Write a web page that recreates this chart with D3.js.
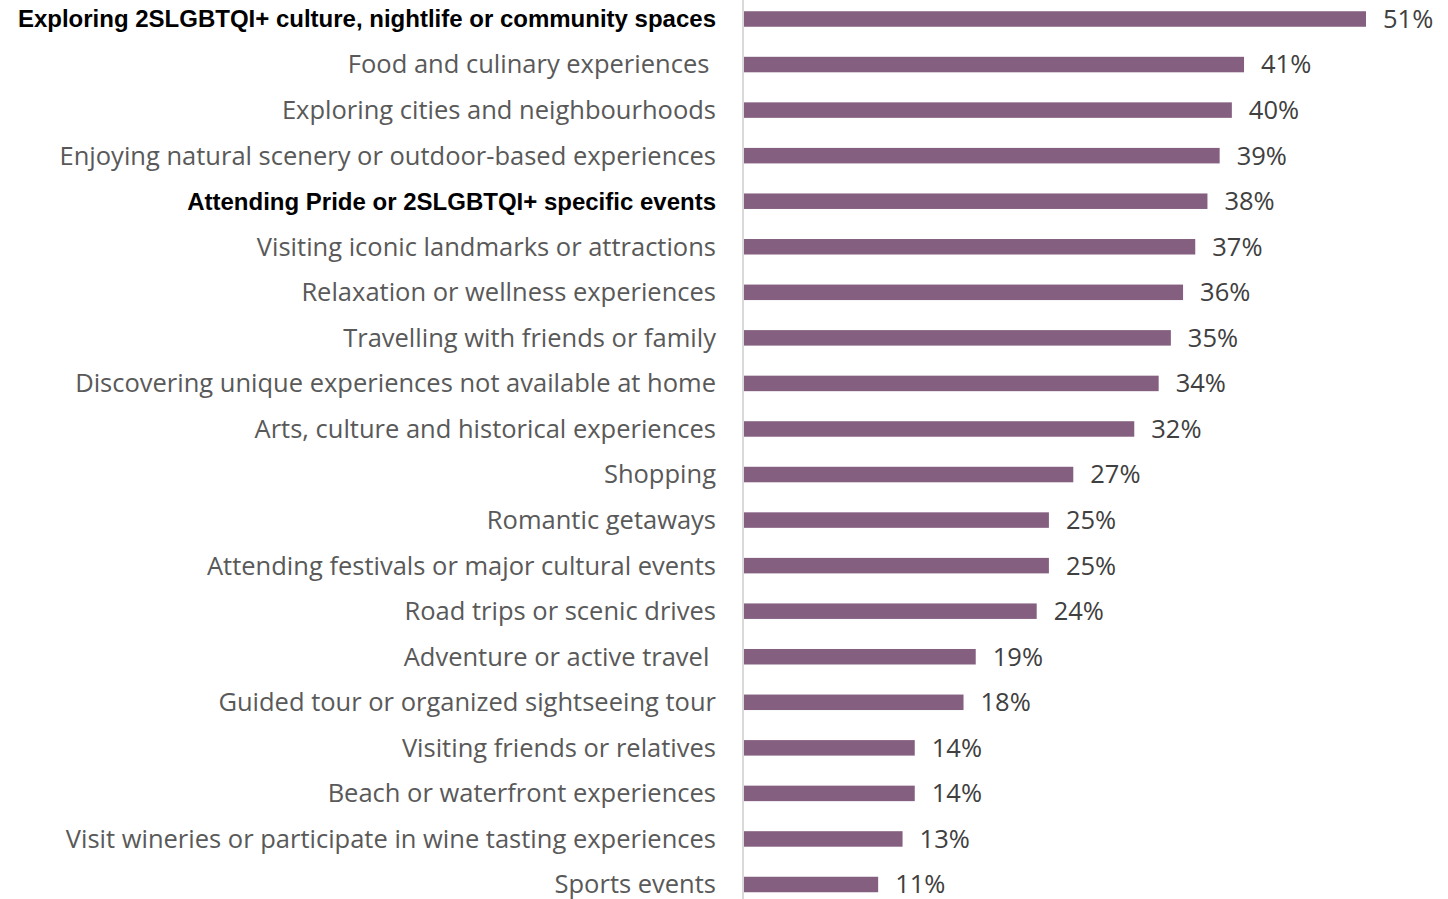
<!DOCTYPE html>
<html>
<head>
<meta charset="utf-8">
<script src="https://cdn.jsdelivr.net/npm/d3@7"></script>
<style>
  html, body { margin: 0; padding: 0; background: #fff; }
  svg { display: block; }
</style>
</head>
<body>
<svg id="chart" width="1448" height="899"></svg>
<script>
// Activities (top to bottom) and share of respondents (%)
const categories = [
  "Exploring 2SLGBTQI+ culture, nightlife or community spaces",
  "Food and culinary experiences ",
  "Exploring cities and neighbourhoods",
  "Enjoying natural scenery or outdoor-based experiences",
  "Attending Pride or 2SLGBTQI+ specific events",
  "Visiting iconic landmarks or attractions",
  "Relaxation or wellness experiences",
  "Travelling with friends or family",
  "Discovering unique experiences not available at home",
  "Arts, culture and historical experiences",
  "Shopping",
  "Romantic getaways",
  "Attending festivals or major cultural events",
  "Road trips or scenic drives",
  "Adventure or active travel ",
  "Guided tour or organized sightseeing tour",
  "Visiting friends or relatives",
  "Beach or waterfront experiences",
  "Visit wineries or participate in wine tasting experiences",
  "Sports events"
];
const values = [51, 41, 40, 39, 38, 37, 36, 35, 34, 32, 27, 25, 25, 24, 19, 18, 14, 14, 13, 11];
// Categories drawn in bold
const highlighted = [
  "Exploring 2SLGBTQI+ culture, nightlife or community spaces",
  "Attending Pride or 2SLGBTQI+ specific events"
];

const data = categories.map((c, i) => ({ name: c, value: values[i] }));

const svg = d3.select("#chart");
const axisX = 743;

const x = d3.scaleLinear().domain([0, 51]).range([axisX + 1, 1366]);
const y = d3.scalePoint().domain(categories).range([19, 884.5]);
const barH = 15.5;

// Bars
svg.append("g").selectAll("rect").data(data).join("rect")
  .attr("x", x(0))
  .attr("y", d => y(d.name) - barH / 2)
  .attr("width", d => x(d.value) - x(0))
  .attr("height", barH)
  .attr("fill", "#845f80");

// Vertical category axis line
svg.append("line")
  .attr("x1", axisX).attr("x2", axisX)
  .attr("y1", 0).attr("y2", 899)
  .attr("stroke", "#d9d9d9").attr("stroke-width", 2);

// Category labels
const isBold = d => highlighted.includes(d.name);
svg.append("g").selectAll("text").data(data).join("text")
  .attr("x", 716)
  .attr("y", d => y(d.name))
  .attr("dy", "0.35em")
  .attr("text-anchor", "end")
  .style("white-space", "pre")
  .style("font-family", d => isBold(d) ? "'Liberation Sans', Arial, sans-serif" : "'Open Sans', sans-serif")
  .style("font-weight", d => isBold(d) ? "bold" : "normal")
  .style("font-size", d => isBold(d) ? "24px" : "25.5px")
  .attr("fill", d => isBold(d) ? "#000000" : "#595959")
  .text(d => d.name);

// Value labels
svg.append("g").selectAll("text").data(data).join("text")
  .attr("x", d => x(d.value) + 17)
  .attr("y", d => y(d.name))
  .attr("dy", "0.35em")
  .style("font-family", "'Open Sans', sans-serif")
  .style("font-size", "25.5px")
  .attr("fill", "#404040")
  .text(d => d.value + "%");
</script>
</body>
</html>
